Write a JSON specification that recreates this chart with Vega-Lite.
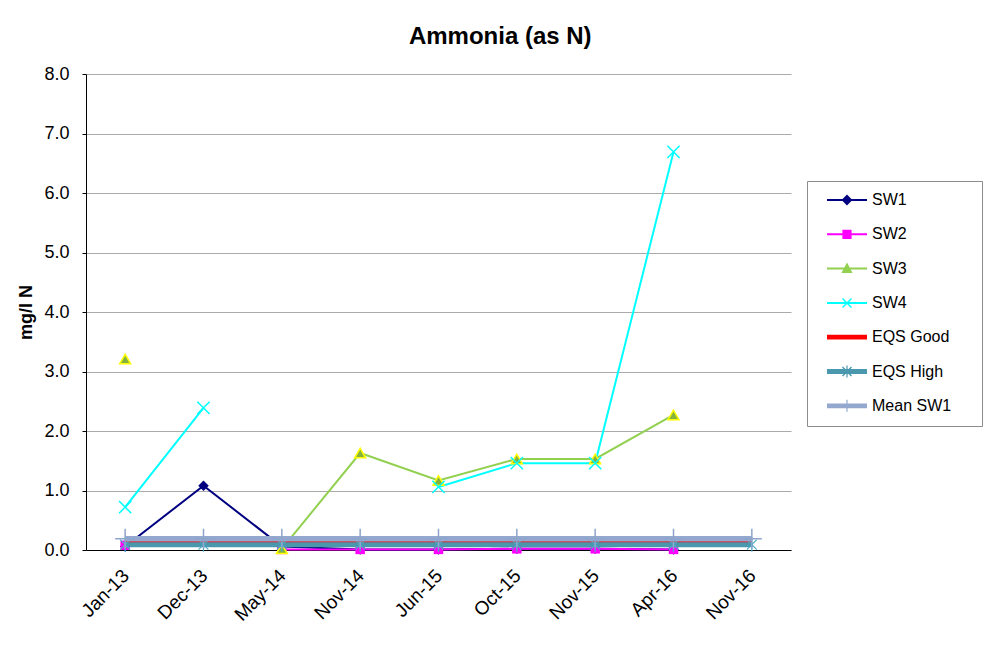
{
  "$schema": "https://vega.github.io/schema/vega-lite/v6.json",
  "autosize": "none",
  "width": 705,
  "height": 476,
  "padding": {"left": 86, "top": 74, "right": 193, "bottom": 105},
  "background": "white",
  "title": {"text": "Ammonia (as N)", "fontSize": 24, "font": "Liberation Sans", "fontWeight": "bold", "color": "black", "anchor": "middle", "frame": "bounds", "offset": 16},
  "config": {
    "view": {"stroke": null},
    "font": "Liberation Sans"
  },
  "data": {"values": [
    {"date": "Jan-13", "series": "SW1", "value": 0.06},
    {"date": "Dec-13", "series": "SW1", "value": 1.08},
    {"date": "May-14", "series": "SW1", "value": 0.06},
    {"date": "Nov-14", "series": "SW1", "value": 0.01},
    {"date": "Jun-15", "series": "SW1", "value": 0.01},
    {"date": "Oct-15", "series": "SW1", "value": 0.02},
    {"date": "Nov-15", "series": "SW1", "value": 0.02},
    {"date": "Apr-16", "series": "SW1", "value": 0.01},
    {"date": "Jan-13", "series": "SW2", "value": 0.08},
    {"date": "Dec-13", "series": "SW2", "value": null},
    {"date": "May-14", "series": "SW2", "value": 0.01},
    {"date": "Nov-14", "series": "SW2", "value": 0.01},
    {"date": "Jun-15", "series": "SW2", "value": 0.01},
    {"date": "Oct-15", "series": "SW2", "value": 0.02},
    {"date": "Nov-15", "series": "SW2", "value": 0.02},
    {"date": "Apr-16", "series": "SW2", "value": 0.01},
    {"date": "Jan-13", "series": "SW3", "value": 3.21},
    {"date": "Dec-13", "series": "SW3", "value": null},
    {"date": "May-14", "series": "SW3", "value": 0.02},
    {"date": "Nov-14", "series": "SW3", "value": 1.63},
    {"date": "Jun-15", "series": "SW3", "value": 1.17},
    {"date": "Oct-15", "series": "SW3", "value": 1.53},
    {"date": "Nov-15", "series": "SW3", "value": 1.53},
    {"date": "Apr-16", "series": "SW3", "value": 2.27},
    {"date": "Jan-13", "series": "SW4", "value": 0.72},
    {"date": "Dec-13", "series": "SW4", "value": 2.39},
    {"date": "May-14", "series": "SW4", "value": null},
    {"date": "Nov-14", "series": "SW4", "value": null},
    {"date": "Jun-15", "series": "SW4", "value": 1.06},
    {"date": "Oct-15", "series": "SW4", "value": 1.46},
    {"date": "Nov-15", "series": "SW4", "value": 1.46},
    {"date": "Apr-16", "series": "SW4", "value": 6.69},
    {"date": "Jan-13", "series": "EQS Good", "value": 0.14},
    {"date": "Dec-13", "series": "EQS Good", "value": 0.14},
    {"date": "May-14", "series": "EQS Good", "value": 0.14},
    {"date": "Nov-14", "series": "EQS Good", "value": 0.14},
    {"date": "Jun-15", "series": "EQS Good", "value": 0.14},
    {"date": "Oct-15", "series": "EQS Good", "value": 0.14},
    {"date": "Nov-15", "series": "EQS Good", "value": 0.14},
    {"date": "Apr-16", "series": "EQS Good", "value": 0.14},
    {"date": "Nov-16", "series": "EQS Good", "value": 0.14},
    {"date": "Jan-13", "series": "EQS High", "value": 0.09},
    {"date": "Dec-13", "series": "EQS High", "value": 0.09},
    {"date": "May-14", "series": "EQS High", "value": 0.09},
    {"date": "Nov-14", "series": "EQS High", "value": 0.09},
    {"date": "Jun-15", "series": "EQS High", "value": 0.09},
    {"date": "Oct-15", "series": "EQS High", "value": 0.09},
    {"date": "Nov-15", "series": "EQS High", "value": 0.09},
    {"date": "Apr-16", "series": "EQS High", "value": 0.09},
    {"date": "Nov-16", "series": "EQS High", "value": 0.09},
    {"date": "Jan-13", "series": "Mean SW1", "value": 0.19},
    {"date": "Dec-13", "series": "Mean SW1", "value": 0.19},
    {"date": "May-14", "series": "Mean SW1", "value": 0.19},
    {"date": "Nov-14", "series": "Mean SW1", "value": 0.19},
    {"date": "Jun-15", "series": "Mean SW1", "value": 0.19},
    {"date": "Oct-15", "series": "Mean SW1", "value": 0.19},
    {"date": "Nov-15", "series": "Mean SW1", "value": 0.19},
    {"date": "Apr-16", "series": "Mean SW1", "value": 0.19},
    {"date": "Nov-16", "series": "Mean SW1", "value": 0.19}
  ]},
  "encoding": {
    "x": {"field": "date", "type": "ordinal",
      "scale": {"type": "point", "padding": 0.5, "domain": ["Jan-13", "Dec-13", "May-14", "Nov-14", "Jun-15", "Oct-15", "Nov-15", "Apr-16", "Nov-16"]},
      "axis": {"title": null, "labelAngle": -45, "labelAlign": "right", "labelBaseline": "top", "labelPadding": 16, "labelOffset": -6, "labelFontSize": 19, "labelColor": "black", "labelFont": "Liberation Sans", "ticks": false, "domainColor": "black", "domainWidth": 1, "grid": false}},
    "y": {"field": "value", "type": "quantitative",
      "scale": {"domain": [0, 8], "nice": false},
      "axis": {"title": "mg/l N", "titleFontSize": 18, "titleFontWeight": "bold", "titleColor": "black", "titleFont": "Liberation Sans", "titlePadding": 8,
        "values": [0, 1, 2, 3, 4, 5, 6, 7, 8], "format": ".1f", "labelFontSize": 18, "labelColor": "black", "labelFont": "Liberation Sans", "labelPadding": 13,
        "tickSize": 4, "tickColor": "black", "domainColor": "black", "gridColor": "#ababab", "gridWidth": 1}}
  },
  "layer": [
    {
      "transform": [{"filter": "indexof(['SW1','SW2','SW3','SW4'], datum.series) >= 0"}],
      "mark": {"type": "line", "strokeWidth": 2, "invalid": "break-paths-filter-domains"},
      "encoding": {"stroke": {"field": "series", "type": "nominal", "legend": null,
        "scale": {"domain": ["SW1", "SW2", "SW3", "SW4"], "range": ["#000080", "#FF00FF", "#92D050", "#00FFFF"]}}}
    },
    {
      "transform": [{"filter": "datum.series == 'SW1'"}],
      "mark": {"type": "point", "filled": true, "shape": "diamond", "size": 110, "color": "#000080", "opacity": 1}
    },
    {
      "transform": [{"filter": "datum.series == 'SW2'"}],
      "mark": {"type": "point", "filled": true, "shape": "square", "size": 90, "color": "#FF00FF", "opacity": 1}
    },
    {
      "transform": [{"filter": "datum.series == 'SW3'"}],
      "mark": {"type": "point", "filled": true, "shape": "triangle-up", "size": 120, "fill": "#86B340", "stroke": "#FFFF00", "strokeWidth": 1.5, "opacity": 1}
    },
    {
      "transform": [{"filter": "datum.series == 'SW4'"}],
      "mark": {"type": "point", "filled": false, "shape": "M-1,-1L1,1M1,-1L-1,1", "size": 150, "stroke": "#00FFFF", "strokeWidth": 1.5, "opacity": 1}
    },
    {
      "transform": [{"filter": "datum.series == 'EQS Good'"}],
      "mark": {"type": "line", "strokeWidth": 4, "color": "#FF0000"},
      "encoding": {}
    },
    {
      "transform": [{"filter": "datum.series == 'EQS High'"}],
      "mark": {"type": "line", "strokeWidth": 5, "color": "#4A98AE"},
      "encoding": {}
    },
    {
      "transform": [{"filter": "datum.series == 'EQS High'"}],
      "mark": {"type": "point", "filled": false, "shape": "M0,-1V1M-0.7,-0.7L0.7,0.7M0.7,-0.7L-0.7,0.7", "size": 200, "stroke": "#4BACC6", "strokeWidth": 1.2, "opacity": 1}
    },
    {
      "transform": [{"filter": "datum.series == 'Mean SW1'"}],
      "mark": {"type": "line", "strokeWidth": 5.5, "color": "#94A8CF"},
      "encoding": {}
    },
    {
      "transform": [{"filter": "datum.series == 'Mean SW1'"}],
      "mark": {"type": "point", "filled": false, "shape": "M0,-1V1M-1,0H1", "size": 400, "stroke": "#8EA5CB", "strokeWidth": 1.5, "opacity": 1}
    },
    {
      "mark": {"type": "point", "filled": true, "opacity": 0, "size": 1600},
      "encoding": {
        "color": {"field": "series", "type": "nominal",
          "scale": {"domain": ["SW1", "SW2", "SW3", "SW4", "EQS Good", "EQS High", "Mean SW1"], "range": ["#000080", "#FF00FF", "#92D050", "#00FFFF", "#FF0000", "#4A98AE", "#94A8CF"]},
          "legend": {"title": "M", "titleOrient": "right", "titleFontSize": 16, "titleColor": "white", "titlePadding": 5.5,
            "orient": "none", "legendX": 721, "legendY": 107,
            "padding": 12, "strokeColor": "#8c8c8c", "fillColor": "white",
            "symbolSize": 1600, "symbolStrokeWidth": 0,
            "clipHeight": 14, "rowPadding": 18.3,
            "symbolOffset": 8, "labelOffset": 5,
            "labelFontSize": 16, "labelFont": "Liberation Sans", "labelColor": "black",
            "symbolOpacity": 1,
            "encode": {"symbols": {"update": {"opacity": {"value": 1}}}}}},
        "shape": {"field": "series", "type": "nominal",
          "scale": {"domain": ["SW1", "SW2", "SW3", "SW4", "EQS Good", "EQS High", "Mean SW1"],
            "range": [
              "M-1,-0.05H1V0.05H-1Z M0,-0.27L0.27,0L0,0.27L-0.27,0Z",
              "M-1,-0.05H1V0.05H-1Z M-0.23,-0.23H0.23V0.23H-0.23Z",
              "M-1,-0.05H1V0.05H-1Z M0,-0.3L0.28,0.22H-0.28Z",
              "M-1,-0.05H1V0.05H-1Z M-0.25,-0.2L-0.2,-0.25L0.25,0.2L0.2,0.25Z M0.2,-0.25L0.25,-0.2L-0.2,0.25L-0.25,0.2Z",
              "M-1,-0.12H1V0.12H-1Z",
              "M-1,-0.12H1V0.12H-1Z M-0.03,-0.3H0.03V0.3H-0.03Z M-0.25,-0.2L-0.2,-0.25L0.25,0.2L0.2,0.25Z M0.2,-0.25L0.25,-0.2L-0.2,0.25L-0.25,0.2Z",
              "M-1,-0.12H1V0.12H-1Z M-0.03,-0.3H0.03V0.3H-0.03Z"
            ]},
          "legend": {"title": "M", "titleOrient": "right", "titleFontSize": 16, "titleColor": "white", "titlePadding": 5.5,
            "orient": "none", "legendX": 721, "legendY": 107,
            "padding": 12, "strokeColor": "#8c8c8c", "fillColor": "white",
            "symbolSize": 1600, "symbolStrokeWidth": 0,
            "clipHeight": 14, "rowPadding": 18.3,
            "symbolOffset": 8, "labelOffset": 5,
            "labelFontSize": 16, "labelFont": "Liberation Sans", "labelColor": "black",
            "symbolOpacity": 1,
            "encode": {"symbols": {"update": {"opacity": {"value": 1}}}}}}
      }
    }
  ]
}
